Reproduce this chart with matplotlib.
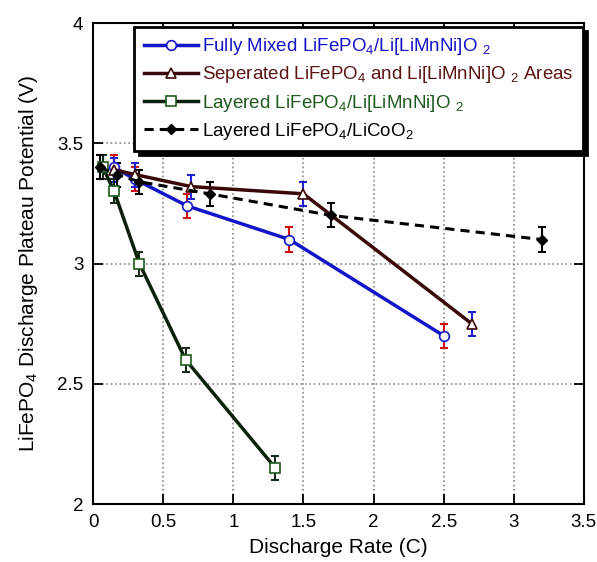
import numpy as np
import matplotlib
matplotlib.use('Agg')
import matplotlib.pyplot as plt

plt.rcParams['font.family'] = ['Liberation Sans', 'DejaVu Sans']
plt.rcParams['mathtext.fontset'] = 'custom'
plt.rcParams['mathtext.rm'] = 'Liberation Sans'
plt.rcParams['mathtext.default'] = 'regular'

# data
mixed_x = [0.15, 0.3, 0.67, 1.4, 2.5]
mixed_y = [3.40, 3.35, 3.24, 3.10, 2.70]
mixed_err = [0.05, 0.05, 0.05, 0.05, 0.05]

sep_x = [0.15, 0.3, 0.7, 1.5, 2.7]
sep_y = [3.39, 3.37, 3.32, 3.29, 2.75]
sep_err = [0.05, 0.05, 0.05, 0.05, 0.05]

layer_x = [0.07, 0.15, 0.33, 0.66, 1.3]
layer_y = [3.40, 3.30, 3.00, 2.60, 2.15]
layer_err = [0.05, 0.05, 0.05, 0.05, 0.05]

lco_x = [0.05, 0.17, 0.33, 0.83, 1.7, 3.2]
lco_y = [3.40, 3.37, 3.34, 3.29, 3.20, 3.10]
lco_err = [0.05, 0.05, 0.05, 0.05, 0.05, 0.05]

labels = ['Fully Mixed LiFePO$_4$/Li[LiMnNi]O $_2$',
          'Seperated LiFePO$_4$ and Li[LiMnNi]O $_2$ Areas',
          'Layered LiFePO$_4$/Li[LiMnNi]O $_2$',
          'Layered LiFePO$_4$/LiCoO$_2$']

blue = '#1414c8'
brown = '#3a0808'
brown_txt = '#5a1414'
green_line = '#0c200c'
green = '#1e5a1e'

fig = plt.figure(figsize=(5.97, 5.62), dpi=100)
ax = fig.add_axes([0.156, 0.103, 0.822, 0.856])

# error bars first, lines and markers on top
ax.errorbar(mixed_x, mixed_y, yerr=mixed_err, fmt='none', ecolor='#d01010',
            elinewidth=1.5, capsize=3, capthick=1.5, zorder=3)
ax.errorbar(sep_x, sep_y, yerr=sep_err, fmt='none', ecolor='#2020d0',
            elinewidth=1.5, capsize=3, capthick=1.5, zorder=3)
ax.errorbar(layer_x, layer_y, yerr=layer_err, fmt='none', ecolor='#1a2a1a',
            elinewidth=1.5, capsize=3, capthick=1.5, zorder=3)
ax.errorbar(lco_x, lco_y, yerr=lco_err, fmt='none', ecolor='black',
            elinewidth=1.5, capsize=3, capthick=1.5, zorder=3)

l1, = ax.plot(mixed_x, mixed_y, '-o', color=blue, lw=2.5, ms=7,
              mfc='white', mec=blue, mew=1.2, zorder=4)
l2, = ax.plot(sep_x, sep_y, '-^', color=brown, lw=2.5, ms=7,
              mfc='white', mec=brown, mew=1.2, zorder=4)
l3, = ax.plot(layer_x, layer_y, '-s', color=green_line, lw=2.5, ms=7,
              mfc='white', mec=green, mew=1.2, zorder=4)
l4, = ax.plot(lco_x, lco_y, '--D', color='black', lw=2.2, ms=5.5,
              mfc='black', mec='black', dashes=(3, 2), zorder=4)

ax.set_xlim(0, 3.5)
ax.set_ylim(2, 4)
ax.set_xticks(np.arange(0, 3.51, 0.5))
ax.set_xticklabels(['0', '0.5', '1', '1.5', '2', '2.5', '3', '3.5'])
ax.set_yticks([2, 2.5, 3, 3.5, 4])
ax.set_yticklabels(['2', '2.5', '3', '3.5', '4'])
ax.grid(True, linestyle=':', color='#888888', lw=1.2)
ax.tick_params(direction='in', length=7, width=1.3, labelsize=13.5,
               top=True, right=True, pad=7)
for s in ax.spines.values():
    s.set_linewidth(1.5)

ax.set_xlabel('Discharge Rate (C)', fontsize=15, labelpad=5)
ax.set_ylabel('LiFePO$_4$ Discharge Plateau Potential (V)', fontsize=15,
              labelpad=12)

leg = ax.legend([l1, l2, l3, l4], labels, loc='upper right',
                bbox_to_anchor=(0.998, 0.992), fontsize=13.5,
                frameon=True, fancybox=False, edgecolor='black',
                handlelength=2.9, handletextpad=0.2, borderpad=0.5,
                labelspacing=0.38, borderaxespad=0,
                shadow={'color': 'black', 'alpha': 1, 'ox': 3, 'oy': -3})
leg.get_frame().set_linewidth(2)
for t, c in zip(leg.get_texts(), [blue, brown_txt, green, 'black']):
    t.set_color(c)

fig.savefig('out.png', dpi=100)
